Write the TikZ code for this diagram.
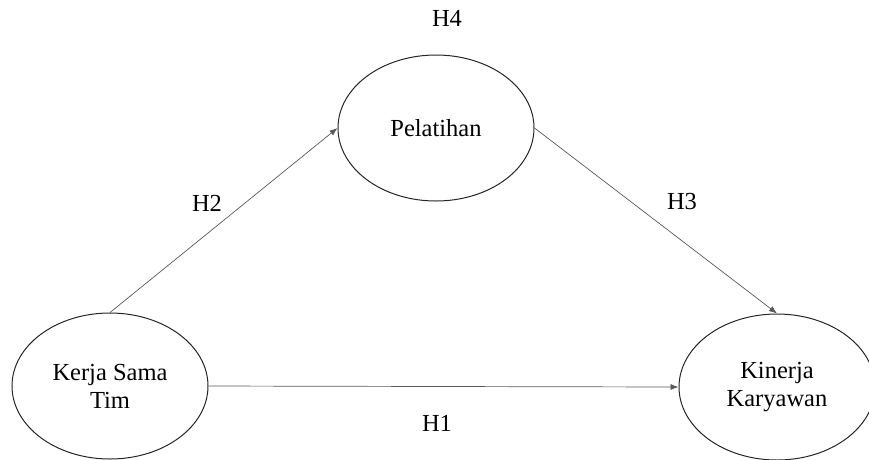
\documentclass[tikz,border=0pt]{standalone}
\usepackage{fontspec}
\setmainfont{Liberation Serif}
\usetikzlibrary{shapes,arrows.meta}
\def\area{(0,0) rectangle (869,459)}

\begin{document}
\begin{tikzpicture}[x=1pt,y=-1pt,
  var/.style={draw=black!85,line width=1pt,ellipse,inner sep=0pt,minimum width=196pt,minimum height=146pt,align=center,font=\fontsize{24.5}{28}\selectfont},
  link/.style={draw=black!65,line width=0.7pt,-{Latex[length=8pt,width=6pt]}},
  hyp/.style={font=\fontsize{24.5}{28}\selectfont}]
\useasboundingbox \area;
\node[var] (pel) at (436,128) {Pelatihan};
\node[var] (kst) at (110,386) {Kerja Sama\\Tim};
\node[var] (kin) at (777,387) {Kinerja\\Karyawan};
 \draw[link] (kst.north) -- (pel.west);
 \draw[link] (pel.east) -- (kin.north);
 \draw[link] (kst.east) -- (kin.west);
\node[hyp] (h1) at (437,423) {H1};
\node[hyp] (h2) at (207,203) {H2};
\node[hyp] (h3) at (682,202) {H3};
\node[hyp] (h4) at (447,18) {H4};
\end{tikzpicture}
\end{document}
